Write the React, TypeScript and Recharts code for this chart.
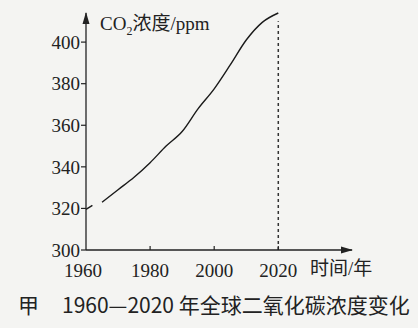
import React from "react";
import { LineChart, Line, XAxis, YAxis, ReferenceLine } from "recharts";

const years = [1960, 1962, 1963, 1965, 1970, 1975, 1980, 1985, 1990, 1995, 2000, 2005, 2010, 2015, 2020];
const co2 = [319.5, 321.5, null, 323, 329, 335, 342, 350, 357, 368, 377.5, 389, 401, 409.5, 414];
const xTicks = [1960, 1970, 1980, 1990, 2000, 2010, 2020];
const yTicks = [300, 320, 340, 360, 380, 400];

const data = years.map((year, i) => ({ year, co2: co2[i] }));

const ink = "#222";
const serif = "'Liberation Serif', 'Noto Sans CJK SC', serif";
const cjk = "'Noto Sans CJK SC', sans-serif";

const XTick = (props: any) => {
  const { x, y, payload } = props;
  const v = payload.value;
  return (
    <g>
      {v !== 1960 && <line x1={x} x2={x} y1={y} y2={y - 4} stroke={ink} strokeWidth={1.2} />}
      {v % 20 === 0 && (
        <text x={v === 1960 ? x - 3 : x} y={y + 27} textAnchor="middle" fontSize={19} fontFamily={serif} fill={ink}>
          {v}
        </text>
      )}
    </g>
  );
};

export default function App() {
  return (
    <div style={{ position: "absolute", left: 0, top: 0, width: 418, height: 328, background: "#f4f4f2" }}>
      <LineChart width={418} height={328} data={data} margin={{ top: 13, right: 66, left: 46, bottom: 48 }}>
        <XAxis
          dataKey="year"
          type="number"
          domain={[1960, 2043]}
          ticks={xTicks}
          height={30}
          tickSize={0}
          tickMargin={0}
          tickLine={false}
          tick={<XTick />}
          axisLine={{ stroke: ink, strokeWidth: 1.3 }}
        />
        <YAxis
          type="number"
          domain={[300, 414]}
          ticks={yTicks}
          width={40}
          tickSize={5}
          tickMargin={1}
          tickLine={{ stroke: ink, strokeWidth: 1.2 }}
          tick={{ fontSize: 19, fontFamily: serif, fill: ink }}
          axisLine={{ stroke: ink, strokeWidth: 1.3 }}
        />
        <ReferenceLine
          segment={[
            { x: 2020, y: 300 },
            { x: 2020, y: 410 },
          ]}
          stroke="#333"
          strokeWidth={1.5}
          strokeDasharray="3 3"
        />
        <Line
          type="monotone"
          dataKey="co2"
          stroke="#1a1a1a"
          strokeWidth={1.4}
          dot={false}
          connectNulls={false}
          isAnimationActive={false}
        />
        {/* axis arrow heads */}
        <path d="M353,250 L341,246.5 L341,253.5 Z" fill={ink} />
        <path d="M86,12 L82.5,24 L89.5,24 Z" fill={ink} />
        <text x={100} y={30} fontSize={19} fontFamily={serif} fill={ink}>
          CO<tspan fontSize={12} dy={5}>2</tspan>
          <tspan dy={-5}>浓度/ppm</tspan>
        </text>
        <text x={310} y={275} fontSize={19} fontFamily={serif} fill={ink}>
          时间/年
        </text>
        <text x={18} y={313} fontSize={21} fontFamily={cjk} fill={ink}>
          甲
        </text>
        <text x={62} y={313} fontSize={21} fontFamily={cjk} fill={ink}>
          1960—2020 年全球二氧化碳浓度变化
        </text>
      </LineChart>
    </div>
  );
}
